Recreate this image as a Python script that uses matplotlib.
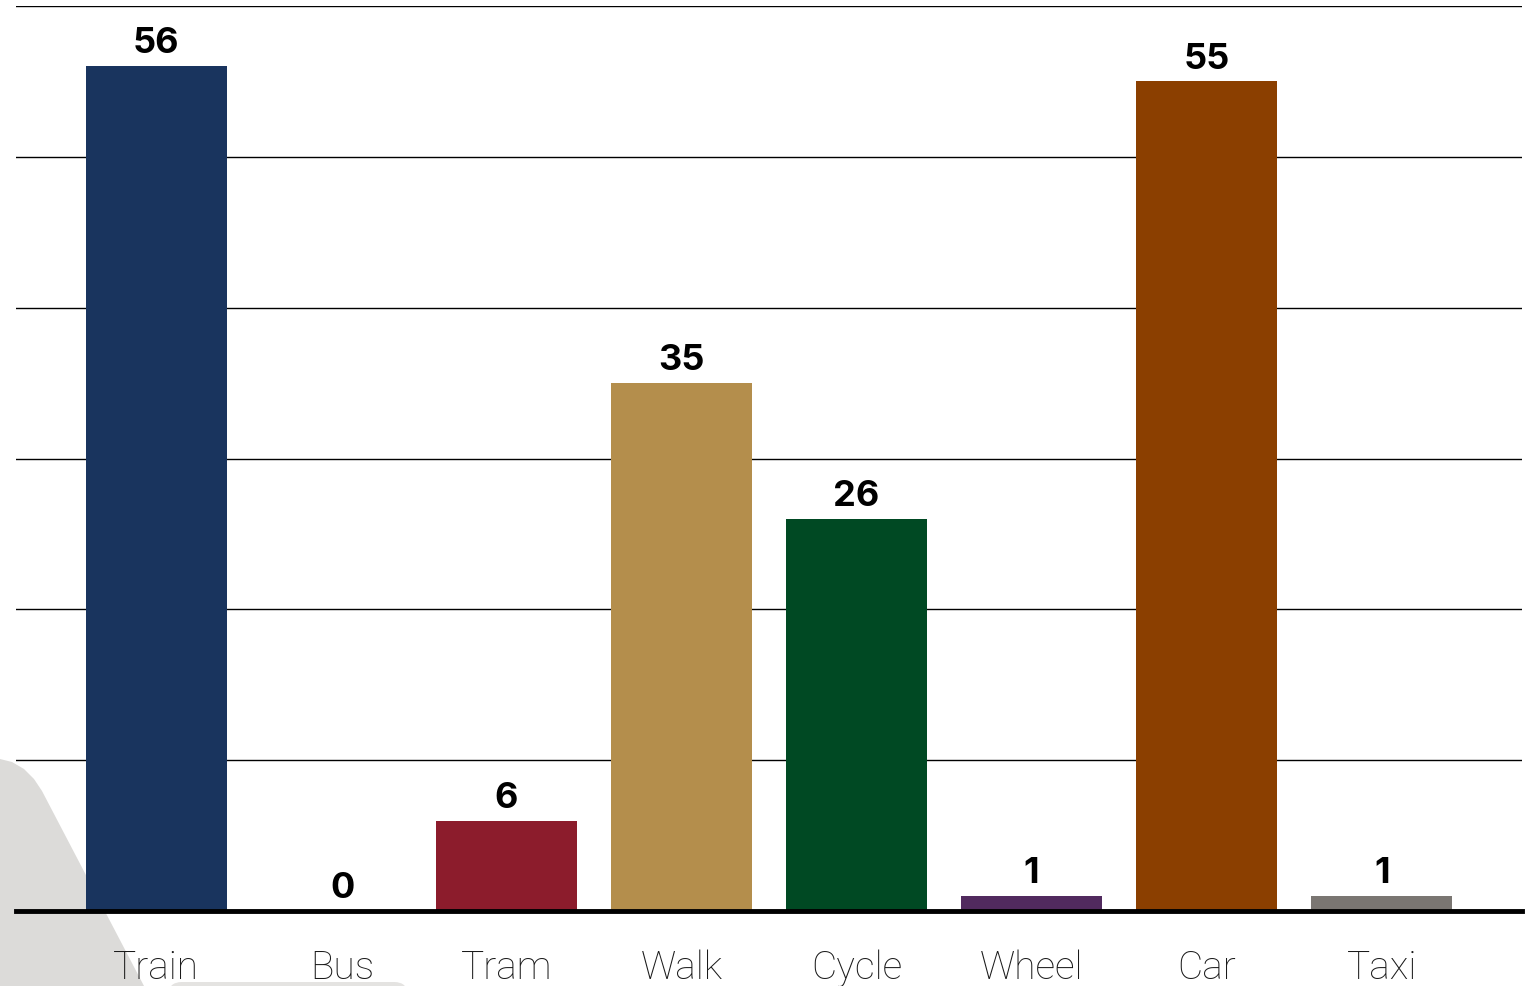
import matplotlib
matplotlib.use('Agg')
from matplotlib import pyplot as plt
from matplotlib.patches import Polygon, FancyBboxPatch
import matplotlib.transforms as mtrans
import numpy as np

modes = ['Train', 'Bus', 'Tram', 'Walk', 'Cycle', 'Wheel', 'Car', 'Taxi']
counts = [56, 0, 6, 35, 26, 1, 55, 1]
colours = ['#19345e', '#19345e', '#8c1c2c', '#b48e4c', '#004923', '#512a5e', '#8b3f00', '#7a7672']

W, H = 1528, 987
fig = plt.figure(figsize=(W / 100, H / 100), dpi=100)

# background axes for the grey decoration (pixel coords)
bg = fig.add_axes([0, 0, 1, 1], zorder=-1)
bg.set_xlim(0, W)
bg.set_ylim(H, 0)
bg.axis('off')
bg.add_patch(Polygon([(0, 760), (12, 763), (24, 770), (34, 780), (42, 792),
                      (144, 987), (0, 987)], closed=True,
                     facecolor='#dcdbd9', edgecolor='none'))
bg.add_patch(FancyBboxPatch((168, 983), 240, 30, boxstyle='round,pad=0,rounding_size=14',
                            facecolor='#e4e3e1', edgecolor='none'))

ax = fig.add_axes([16 / W, 75 / H, (1522 - 16) / W, (912 - 7) / H])
ax.patch.set_alpha(0)

x = np.arange(len(modes))
ax.bar(x, counts, width=0.806, color=colours, zorder=2)

nudge = [0, 11, 0, 0, 0, 0, 0, 0]  # pixels, the Bus labels sit a little right in the original
for xi, v, n in zip(x, counts, nudge):
    ax.annotate(str(v), (xi, v), xytext=(n * 0.72, 10), textcoords='offset points',
                ha='center', va='baseline', fontsize=26, fontweight='bold',
                family=['Inter', 'Roboto', 'DejaVu Sans'], zorder=3)

ax.set_xlim(-0.8, 7.8)
ax.set_ylim(0, 60)
ax.set_yticks(np.arange(0, 61, 10))
ax.yaxis.grid(True, color='black', linewidth=1.0, zorder=0)
ax.set_axisbelow(True)
ax.tick_params(axis='y', left=False, labelleft=False)
ax.tick_params(axis='x', length=0, pad=27)
ax.set_xticks(x)
ax.set_xticklabels(modes, fontsize=28, fontweight='light', family=['Roboto', 'DejaVu Sans'], color='#1a1a1a')
for lab, n in zip(ax.get_xticklabels(), nudge):
    if n:
        lab.set_transform(lab.get_transform() + mtrans.ScaledTranslation(n / 100, 0, fig.dpi_scale_trans))

for s in ['left', 'right', 'top']:
    ax.spines[s].set_visible(False)
ax.spines['bottom'].set_linewidth(3.5)
ax.spines['bottom'].set_zorder(4)

plt.savefig('out.png', dpi=100)
